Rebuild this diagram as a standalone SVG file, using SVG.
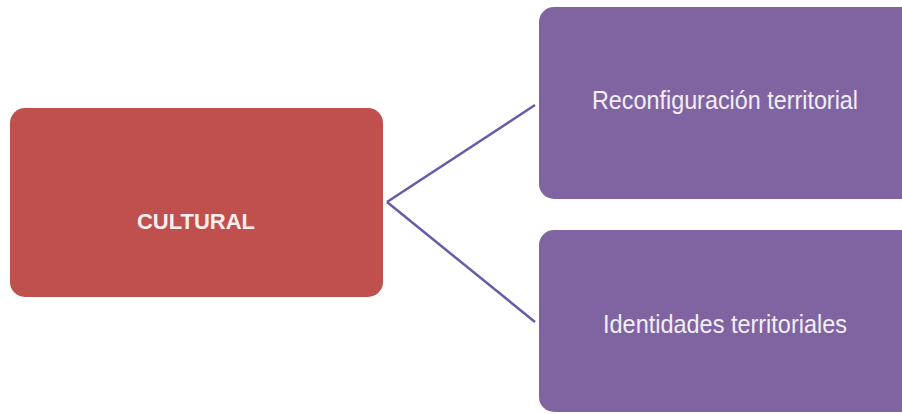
<svg xmlns="http://www.w3.org/2000/svg" width="902" height="414" viewBox="0 0 902 414">
<style>
.red{fill:#C0504D}
.purple{fill:#8064A2}
.lbl{font-family:"Liberation Sans",Arial,sans-serif;text-anchor:middle}
.conn{stroke:#6A5AA8;stroke-width:2.5;fill:none}
</style>
<rect width="902" height="414" fill="#FFFFFF"/>
<g id="connectors">
<line class="conn" x1="387" y1="202" x2="535" y2="105"/>
<line class="conn" x1="387" y1="202" x2="535" y2="322"/>
</g>
<g id="cultural">
<rect class="red" x="10" y="108" width="373" height="189" rx="15"/>
<text class="lbl" x="196" y="229" font-size="22" font-weight="bold" fill="#F8EEEE">CULTURAL</text>
</g>
<g id="reconfiguracion">
<rect class="purple" x="539" y="7" width="380" height="192" rx="15"/>
<text class="lbl" x="725" y="109" font-size="26" fill="#F2EEF6" textLength="266" lengthAdjust="spacingAndGlyphs">Reconfiguración territorial</text>
</g>
<g id="identidades">
<rect class="purple" x="539" y="230" width="380" height="182" rx="15"/>
<text class="lbl" x="725" y="333" font-size="26" fill="#F2EEF6" textLength="244" lengthAdjust="spacingAndGlyphs">Identidades territoriales</text>
</g>
</svg>
